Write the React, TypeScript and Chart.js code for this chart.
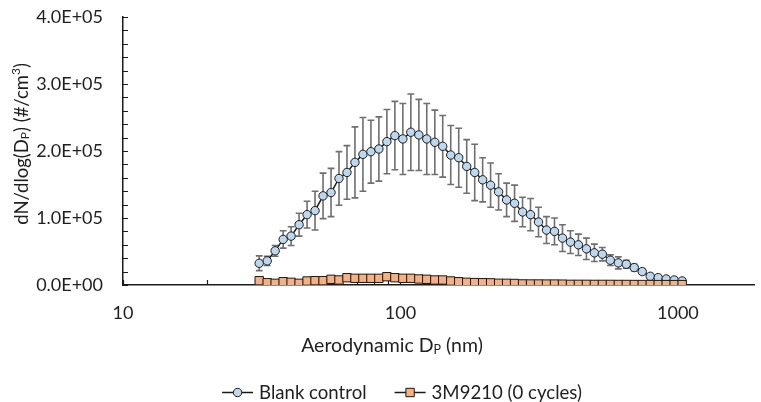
import { useEffect, useRef } from 'react';
import { Chart, registerables } from 'chart.js';

Chart.register(...registerables);

// ---------- data ----------
const DIAMETERS_NM = [
  30.97, 33.09, 35.35, 37.78, 40.35, 43.12, 46.07, 49.22, 52.6, 56.21,
  60.04, 64.16, 68.55, 73.24, 78.27, 83.61, 89.35, 95.47, 102.0, 109.0,
  116.5, 124.4, 133.0, 142.0, 151.8, 162.2, 173.3, 185.2, 197.8, 211.3,
  225.8, 241.3, 257.8, 275.5, 294.3, 314.5, 336.0, 359.1, 383.7, 409.9,
  437.9, 468.0, 500.0, 534.2, 570.7, 609.9, 651.6, 696.1, 743.9, 794.9,
  849.1, 907.5, 969.4, 1036,
];

const BLANK_CONTROL = [
  32400, 36000, 51000, 68000, 73000, 90000, 105000, 111000, 133000, 138000,
  159000, 168000, 183000, 195000, 199000, 203000, 214000, 223000, 218000, 228000,
  224000, 218000, 213000, 207000, 194000, 190000, 177000, 168000, 157000, 149000,
  139000, 127000, 122000, 109000, 105000, 94000, 82000, 80000, 70000, 64000,
  60000, 54000, 48000, 46000, 37000, 33000, 31000, 26000, 20000, 13000,
  11000, 9000, 7500, 6000,
];

const BLANK_CONTROL_SD = [
  11000, 7000, 8000, 13000, 14000, 17000, 20000, 29000, 34000, 36000,
  40000, 40000, 53000, 55000, 47000, 48000, 48000, 51000, 53000, 57000,
  53000, 53000, 48000, 46000, 44000, 44000, 40000, 42000, 33000, 33000,
  27000, 25000, 27000, 22000, 24000, 22000, 20000, 20000, 20000, 17000,
  16000, 16000, 13000, 10000, 8000, 9000, 6000, 5000, 4000, 3000,
  2000, 2000, 1500, 1000,
];

const M9210_0_CYCLES = [
  6400, 3400, 2500, 4900, 4000, 2500, 6000, 6400, 6400, 8500,
  7500, 10900, 10000, 10000, 10000, 10000, 12400, 10900, 10000, 10000,
  9000, 8500, 7500, 7500, 6000, 4900, 4000, 3600, 3400, 3200,
  2600, 2500, 2300, 1600, 1500, 1500, 1400, 1400, 1300, 1000,
  1000, 1000, 900, 900, 900, 800, 800, 700, 700, 700,
  600, 600, 600, 600,
];

const SERIES_LABELS = ['Blank control', '3M9210 (0 cycles)'];
const X_TICKS = [10, 100, 1000];
const X_MINOR_TICKS = [20, 30, 40, 50, 60, 70, 80, 90, 200, 300, 400, 500, 600, 700, 800, 900];
const X_MIN = 10;
const X_MAX = 1882;
const Y_MIN = 0;
const Y_MAX = 400000;
const Y_STEP = 100000;
const Y_MINOR_STEP = 20000;

// ---------- styles ----------
const FONT = 'Lato, "Open Sans", sans-serif';
const TEXT_COLOR = '#1f1f1f';
const AXIS_COLOR = '#1a1a1a';
const LINE_COLOR = '#1a1a1a';
const ERR_COLOR = '#6f6f6f';
const BLUE = '#BDD7EE';
const ORANGE = '#F4B183';

function sci(v: number): string {
  const [m, e] = v.toExponential(1).split('e');
  const n = parseInt(e, 10);
  return m + 'E' + (n < 0 ? '-' : '+') + String(Math.abs(n)).padStart(2, '0');
}

type Part = { t: string; size: number; dy: number };

function richWidth(ctx: CanvasRenderingContext2D, parts: Part[]) {
  let w = 0;
  for (const p of parts) {
    ctx.font = `${p.size}px ${FONT}`;
    w += ctx.measureText(p.t).width;
  }
  return w;
}

function drawRich(ctx: CanvasRenderingContext2D, parts: Part[], cx: number, cy: number) {
  const total = richWidth(ctx, parts);
  let x = cx - total / 2;
  ctx.textAlign = 'left';
  ctx.textBaseline = 'middle';
  ctx.fillStyle = TEXT_COLOR;
  for (const p of parts) {
    ctx.font = `${p.size}px ${FONT}`;
    ctx.fillText(p.t, x, cy + p.dy);
    x += ctx.measureText(p.t).width;
  }
}

const errorBarPlugin = {
  id: 'errorBars',
  beforeDatasetsDraw(chart: any) {
    const ctx: CanvasRenderingContext2D = chart.ctx;
    const yScale = chart.scales.y;
    chart.data.datasets.forEach((ds: any, i: number) => {
      if (!ds.errors) return;
      const meta = chart.getDatasetMeta(i);
      ctx.save();
      ctx.strokeStyle = ERR_COLOR;
      ctx.lineWidth = 1.6;
      meta.data.forEach((el: any, j: number) => {
        const v = ds.data[j].y;
        const e = ds.errors[j];
        const top = yScale.getPixelForValue(v + e);
        const bot = yScale.getPixelForValue(Math.max(v - e, 0));
        const x = el.x;
        ctx.beginPath();
        ctx.moveTo(x, top);
        ctx.lineTo(x, bot);
        ctx.moveTo(x - 3.4, top);
        ctx.lineTo(x + 3.4, top);
        ctx.moveTo(x - 3.4, bot);
        ctx.lineTo(x + 3.4, bot);
        ctx.stroke();
      });
      ctx.restore();
    });
  },
};

const innerTicksPlugin = {
  id: 'innerTicks',
  beforeDatasetsDraw(chart: any) {
    const ctx: CanvasRenderingContext2D = chart.ctx;
    const { x: xs, y: ys } = chart.scales;
    const area = chart.chartArea;
    ctx.save();
    ctx.strokeStyle = AXIS_COLOR;
    ctx.lineWidth = 1.2;
    ctx.beginPath();
    for (let v = Y_MIN; v <= Y_MAX; v += Y_MINOR_STEP) {
      const py = Math.round(ys.getPixelForValue(v)) + 0.5;
      ctx.moveTo(area.left, py);
      ctx.lineTo(area.left + 5, py);
    }
    for (const v of [...X_TICKS, ...X_MINOR_TICKS]) {
      const px = Math.round(xs.getPixelForValue(v)) + 0.5;
      ctx.moveTo(px, area.bottom);
      ctx.lineTo(px, area.bottom - 5);
    }
    ctx.stroke();
    ctx.restore();
  },
};

const textPlugin = {
  id: 'titlesLegend',
  afterDraw(chart: any) {
    const ctx: CanvasRenderingContext2D = chart.ctx;
    ctx.save();
    // x title
    drawRich(
      ctx,
      [
        { t: 'Aerodynamic D', size: 19.5, dy: 0 },
        { t: 'P', size: 12.5, dy: 3.5 },
        { t: ' (nm)', size: 19.5, dy: 0 },
      ],
      392,
      346,
    );
    // y title
    ctx.save();
    ctx.translate(22, 144);
    ctx.rotate(-Math.PI / 2);
    drawRich(
      ctx,
      [
        { t: 'dN/dlog(D', size: 18.5, dy: 0 },
        { t: 'P', size: 12, dy: 3.5 },
        { t: ') (#/cm', size: 18.5, dy: 0 },
        { t: '3', size: 12, dy: -5.5 },
        { t: ')', size: 18.5, dy: 0 },
      ],
      0,
      0,
    );
    ctx.restore();

    // legend
    ctx.font = `18.6px ${FONT}`;
    const w1 = ctx.measureText(SERIES_LABELS[0]).width;
    const w2 = ctx.measureText(SERIES_LABELS[1]).width;
    const markW = 31;
    const gap = 6;
    const itemGap = 28;
    const total = markW + gap + w1 + itemGap + markW + gap + w2;
    let x = 402 - total / 2;
    const cy = 392.5;
    const items = [
      { label: SERIES_LABELS[0], w: w1, kind: 'circle' },
      { label: SERIES_LABELS[1], w: w2, kind: 'rect' },
    ];
    for (const it of items) {
      ctx.strokeStyle = LINE_COLOR;
      ctx.lineWidth = 1.5;
      ctx.beginPath();
      ctx.moveTo(x, cy);
      ctx.lineTo(x + markW, cy);
      ctx.stroke();
      const mx = x + markW / 2;
      ctx.lineWidth = 1;
      ctx.beginPath();
      if (it.kind === 'circle') {
        ctx.fillStyle = BLUE;
        ctx.arc(mx, cy, 4.2, 0, Math.PI * 2);
      } else {
        ctx.fillStyle = ORANGE;
        ctx.rect(mx - 4.2, cy - 4.2, 8.4, 8.4);
      }
      ctx.fill();
      ctx.stroke();
      ctx.fillStyle = TEXT_COLOR;
      ctx.textAlign = 'left';
      ctx.textBaseline = 'middle';
      ctx.font = `18.6px ${FONT}`;
      ctx.fillText(it.label, x + markW + gap, cy);
      x += markW + gap + it.w + itemGap;
    }
    ctx.restore();
  },
};

export default function App() {
  const ref = useRef<HTMLCanvasElement | null>(null);

  useEffect(() => {
    if (!ref.current) return;
    const blank = DIAMETERS_NM.map((d, i) => ({ x: d, y: BLANK_CONTROL[i] }));
    const m9210 = DIAMETERS_NM.map((d, i) => ({ x: d, y: M9210_0_CYCLES[i] }));
    const chart = new Chart(ref.current, {
      type: 'scatter',
      data: {
        datasets: [
          {
            label: SERIES_LABELS[0],
            data: blank,
            showLine: true,
            borderColor: LINE_COLOR,
            borderWidth: 1.5,
            pointStyle: 'circle',
            pointRadius: 4.2,
            pointBorderWidth: 1,
            pointBackgroundColor: BLUE,
            pointBorderColor: LINE_COLOR,
            order: 2,
            errors: BLANK_CONTROL_SD,
          } as any,
          {
            label: SERIES_LABELS[1],
            data: m9210,
            showLine: true,
            borderColor: LINE_COLOR,
            borderWidth: 1.5,
            pointStyle: 'rect',
            pointRadius: 5.9,
            pointBorderWidth: 1,
            pointBackgroundColor: ORANGE,
            pointBorderColor: LINE_COLOR,
            order: 1,
          } as any,
        ],
      },
      options: {
        animation: false,
        responsive: false,
        maintainAspectRatio: false,
        layout: { padding: { top: 17, right: 0, left: 0, bottom: 0 } },
        plugins: {
          legend: { display: false },
          tooltip: { enabled: false },
        },
        scales: {
          x: {
            type: 'logarithmic',
            min: X_MIN,
            max: X_MAX,
            grid: { display: false, drawTicks: false },
            border: { display: true, color: AXIS_COLOR, width: 1.5 },
            ticks: {
              color: TEXT_COLOR,
              font: { family: FONT, size: 18 },
              padding: 17,
              maxRotation: 0,
              autoSkip: false,
              callback: (v: any) => String(v),
            },
            afterBuildTicks: (s: any) => {
              s.ticks = X_TICKS.map((v) => ({ value: v }));
            },
            afterFit: (s: any) => {
              s.height = 117;
              s.paddingLeft = 0;
              s.paddingRight = 0;
            },
          },
          y: {
            min: Y_MIN,
            max: Y_MAX,
            grid: { display: false, drawTicks: false },
            border: { display: true, color: AXIS_COLOR, width: 1.5 },
            ticks: {
              stepSize: Y_STEP,
              color: TEXT_COLOR,
              font: { family: FONT, size: 18 },
              padding: 20,
              callback: (v: any) => sci(Number(v)),
            },
            afterFit: (s: any) => {
              s.width = 123;
              s.paddingTop = 0;
              s.paddingBottom = 0;
            },
          },
        },
      } as any,
      plugins: [errorBarPlugin, innerTicksPlugin, textPlugin],
    });
    return () => chart.destroy();
  }, []);

  return (
    <div style={{ position: 'absolute', left: 0, top: 0, width: 761, height: 402, background: '#fff' }}>
      <canvas ref={ref} width={761} height={402} style={{ display: 'block' }} />
    </div>
  );
}
